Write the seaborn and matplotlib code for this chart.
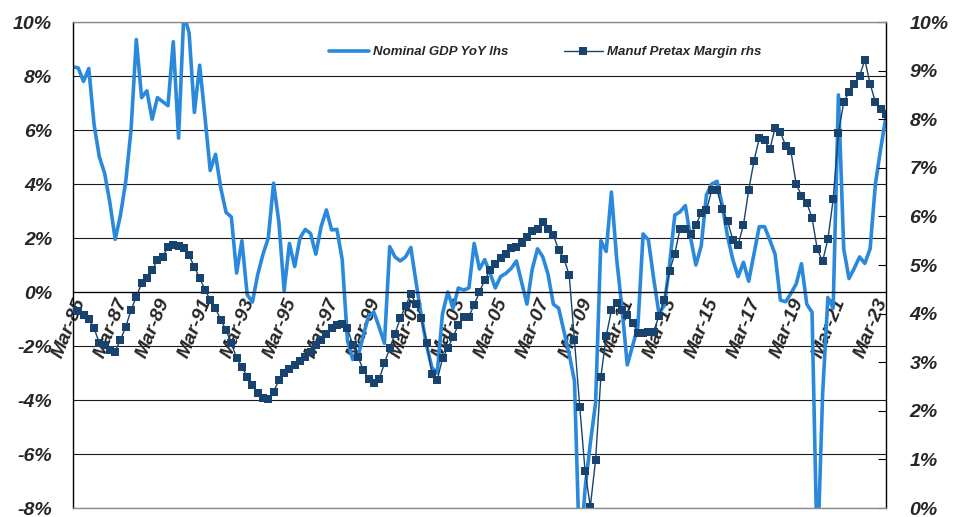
import numpy as np
import pandas as pd
import matplotlib
matplotlib.use('Agg')
import matplotlib.pyplot as plt
from matplotlib.ticker import FuncFormatter
import seaborn as sns

sns.set_style('white')
plt.rcParams['font.family'] = ['Liberation Sans', 'DejaVu Sans']
plt.rcParams['axes.unicode_minus'] = False

# quarterly data, Mar-85 .. Sep-23
gdp_yoy = [
    8.34, 8.3, 7.8, 8.28, 6.2, 5.0, 4.4, 3.3, 1.95, 2.85,
    4.1, 6.0, 9.35, 7.2, 7.45, 6.4, 7.2, 7.05, 6.9, 9.27,
    5.7, 10.3, 9.6, 6.65, 8.4, 6.5, 4.5, 5.1, 3.85, 2.95,
    2.78, 0.7, 1.9, -0.1, -0.37, 0.65, 1.4, 2.0, 4.03, 2.6,
    0.05, 1.8, 0.94, 2.0, 2.32, 2.17, 1.4, 2.42, 3.04, 2.3,
    2.32, 1.2, -1.8, -2.5, -2.4, -1.6, -0.9, -0.75, -1.3, -1.9,
    1.68, 1.3, 1.15, 1.3, 1.65, 0.35, -0.9, -2.0, -2.8, -3.0,
    -0.8, 0.0, -0.6, 0.15, 0.07, 0.15, 1.8, 0.85, 1.2, 0.7,
    0.15, 0.57, 0.69, 0.87, 1.15, 0.35, -0.45, 0.85, 1.6, 1.3,
    0.65, -0.45, -0.6, -1.45, -2.3, -3.3, -10.0, -7.3, -5.6, -4.1,
    1.9, 1.5, 3.7, 1.2, -0.6, -2.7, -2.0, -1.3, 2.15, 1.93,
    0.5, -0.8, -0.5, 1.0, 2.85, 2.97, 3.2, 2.0, 1.0, 1.7,
    3.6, 4.0, 4.1, 3.2, 2.05, 1.2, 0.57, 1.1, 0.4, 1.4,
    2.42, 2.42, 1.93, 1.4, -0.3, -0.36, -0.05, 0.3, 1.05, -0.45,
    -0.75, -10.0, -3.8, -0.2, -0.6, 7.3, 1.6, 0.5, 0.88, 1.3,
    1.06, 1.6, 4.0, 5.3, 6.5,
]

pretax_margin = [
    4.07, 4.05, 3.97, 3.88, 3.70, 3.39, 3.35, 3.26, 3.22, 3.46,
    3.73, 4.07, 4.35, 4.62, 4.73, 4.90, 5.10, 5.17, 5.38, 5.41,
    5.39, 5.34, 5.20, 4.96, 4.73, 4.49, 4.28, 4.11, 3.87, 3.66,
    3.39, 3.08, 2.91, 2.70, 2.53, 2.36, 2.26, 2.24, 2.39, 2.63,
    2.77, 2.87, 2.94, 3.03, 3.11, 3.22, 3.35, 3.46, 3.59, 3.70,
    3.77, 3.79, 3.70, 3.35, 3.11, 2.84, 2.66, 2.58, 2.65, 2.98,
    3.29, 3.59, 3.90, 4.16, 4.40, 4.20, 3.90, 3.40, 2.75, 2.63,
    3.08, 3.29, 3.52, 3.77, 3.94, 3.94, 4.18, 4.45, 4.69, 4.90,
    5.03, 5.15, 5.23, 5.34, 5.38, 5.45, 5.58, 5.69, 5.75, 5.89,
    5.74, 5.62, 5.31, 5.13, 4.79, 3.45, 2.08, 0.77, 0.03, 0.99,
    2.70, 3.53, 4.07, 4.22, 4.07, 3.97, 3.81, 3.61, 3.61, 3.62,
    3.63, 3.95, 4.28, 4.87, 5.23, 5.75, 5.75, 5.63, 5.82, 6.07,
    6.13, 6.54, 6.54, 6.15, 5.90, 5.52, 5.42, 5.82, 6.54, 7.14,
    7.61, 7.57, 7.38, 7.82, 7.74, 7.45, 7.34, 6.66, 6.43, 6.28,
    5.97, 5.32, 5.08, 5.53, 6.35, 7.72, 8.35, 8.56, 8.73, 8.89,
    9.22, 8.73, 8.35, 8.22, 8.11,
]

tick_labels = ['Mar-85', 'Mar-87', 'Mar-89', 'Mar-91', 'Mar-93', 'Mar-95',
               'Mar-97', 'Mar-99', 'Mar-01', 'Mar-03', 'Mar-05', 'Mar-07',
               'Mar-09', 'Mar-11', 'Mar-13', 'Mar-15', 'Mar-17', 'Mar-19',
               'Mar-21', 'Mar-23']

df = pd.DataFrame({'q': np.arange(len(gdp_yoy)),
                   'gdp': gdp_yoy,
                   'margin': pretax_margin})

LIGHT = '#2A89DD'
DARK = '#17436E'

fig = plt.figure(figsize=(9.55, 5.17), dpi=100)
ax = fig.add_axes([0.0764, 0.0174, 0.8513, 0.94])
ax2 = ax.twinx()

sns.lineplot(data=df, x='q', y='gdp', ax=ax, color=LIGHT, linewidth=2.6,
             label='Nominal GDP YoY lhs', legend=False)
sns.lineplot(data=df, x='q', y='margin', ax=ax2, color=DARK, linewidth=1.0,
             marker='s', markersize=5.4, markeredgewidth=0,
             label='Manuf Pretax Margin rhs', legend=False)

ax.set_xlim(0, len(gdp_yoy) - 1)
ax.set_ylim(-8, 10)
ax2.set_ylim(0, 10)
ax.set_xlabel('')
ax.set_ylabel('')
ax2.set_ylabel('')

# gridlines at left-axis levels
ax.set_yticks(np.arange(-8, 11, 2))
ax.yaxis.grid(True, color='#1a1a1a', linewidth=0.8)
ax.xaxis.grid(False)
ax2.set_yticks(np.arange(0, 11, 1))
ax2.grid(False)

pct = FuncFormatter(lambda v, p: f'{v:.0f}%')
ax.yaxis.set_major_formatter(pct)
ax2.yaxis.set_major_formatter(pct)

# category axis crossing at 0
ax.spines['bottom'].set_position(('data', 0))
ax.spines['bottom'].set_color('black')
ax.spines['bottom'].set_linewidth(0.9)
ax.spines['left'].set_color('black')
ax.spines['left'].set_linewidth(1.0)
ax.spines['top'].set_visible(False)
ax.spines['right'].set_visible(False)
ax2.spines['left'].set_visible(False)
ax2.spines['right'].set_color('black')
ax2.spines['right'].set_linewidth(1.0)
ax2.spines['top'].set_color('#8c8c8c')
ax2.spines['bottom'].set_color('#8c8c8c')
ax2.spines['top'].set_linewidth(1.0)
ax2.spines['bottom'].set_linewidth(1.0)

ax.set_xticks(np.arange(0, len(gdp_yoy), 8), labels=tick_labels)
ax.tick_params(axis='x', direction='in', length=5, width=0.8, color='black',
               pad=3, labelsize=14)
for lab in ax.get_xticklabels():
    lab.set_rotation(68)
    lab.set_ha('right')
    lab.set_va('top')
    lab.set_rotation_mode('anchor')
    lab.set_fontweight('bold')
    lab.set_fontstyle('italic')

ax.tick_params(axis='y', direction='in', length=0, pad=15, labelsize=14)
ax2.tick_params(axis='y', direction='in', length=6, width=0.8, color='black',
                pad=17, labelsize=14)
for lab in ax.get_yticklabels() + ax2.get_yticklabels():
    lab.set_fontweight('bold')
    lab.set_fontstyle('italic')

handles = ax.get_lines()[:1] + ax2.get_lines()[:1]
leg = ax2.legend(handles, ['Nominal GDP YoY lhs', 'Manuf Pretax Margin rhs'],
                 loc='center', bbox_to_anchor=(0.581, 0.938), ncol=2,
                 frameon=False, handlelength=3.0, handletextpad=0.3,
                 columnspacing=4.2, prop=dict(size=9.5, weight='bold', style='italic'))

fig.savefig('out.png', dpi=100)
